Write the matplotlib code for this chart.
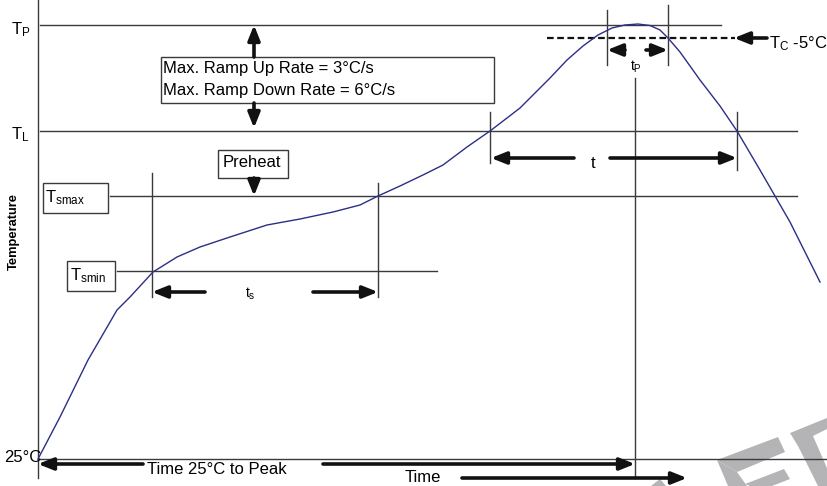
import matplotlib
matplotlib.use("Agg")
import matplotlib.pyplot as plt
from matplotlib.patches import Rectangle, Polygon

plt.rcParams['font.family'] = ['Liberation Sans', 'DejaVu Sans']
plt.rcParams['mathtext.default'] = 'regular'

# ---- data (diagram units: x = time, y = temperature, screen-like scale) ----
profile_time = [38, 60, 88, 117, 130, 153, 177, 200, 230, 267, 300, 333, 360, 378,
                400, 425, 443, 467, 490, 507, 520, 535, 550, 567, 583, 598, 612, 625,
                638, 650, 660, 668, 680, 700, 720, 737, 760, 790, 820]
profile_temp = [459, 417, 360, 310, 297, 272, 257, 247, 237, 225, 219, 212, 205, 196,
                186, 174, 165, 147, 131, 118, 108, 93, 78, 60, 46, 35, 28, 25,
                24, 25.5, 30, 38, 52, 80, 106, 131, 170, 222, 282]

level_names = ['Tp', 'TL', 'Tsmax', 'Tsmin', 'T25']
level_temp = [25, 131, 196, 271, 459]
level_start = [40, 40, 110, 117, 38]
level_end = [721, 797, 797, 437, 827]
tc_temp = 38

fig = plt.figure(figsize=(8.27, 4.86), dpi=100)
ax = fig.add_axes([0, 0, 1, 1])
ax.set_xlim(0, 827)
ax.set_ylim(486, 0)
ax.axis('off')

LC = '#3a3a3a'
LW = 1.0
FS = 12

# watermark
wm = '#b4b4b6'
for pts in [
    [(717, 460), (778, 437), (785, 452), (737, 472)],
    [(717, 460), (737, 472), (747, 486), (728, 486)],
    [(745, 484), (784, 469), (790, 479), (772, 486), (750, 486)],
    [(790, 433), (827, 418), (827, 429), (813, 436), (827, 468), (827, 486), (818, 486), (798, 446)],
    [(651, 486), (660, 479), (666, 486)],
]:
    ax.add_patch(Polygon(pts, closed=True, fc=wm, ec='none', zorder=0))

# y axis
ax.plot([38, 38], [0, 478], color=LC, lw=LW)
# horizontal level lines
for yv, x0, x1 in zip(level_temp, level_start, level_end):
    ax.plot([x0, x1], [yv, yv], color=LC, lw=LW)

# dashed Tc-5 line
ax.plot([547, 735], [tc_temp, tc_temp], color='#111111', lw=1.6, ls=(0, (3, 1.6)))

# vertical lines
verts = [(152, 173, 297), (378, 183, 297), (490, 112, 163), (737, 112, 170),
         (607, 10, 65), (668, 5, 65), (635, 78, 478)]
for x, y0, y1 in verts:
    ax.plot([x, x], [y0, y1], color=LC, lw=LW)

# profile curve
ax.plot(profile_time, profile_temp, color='#2b2f86', lw=1.0, zorder=5)

def arrow(x0, y0, x1, y1, lw=2.6):
    ax.annotate('', xy=(x1, y1), xytext=(x0, y0),
                arrowprops=dict(arrowstyle='-|>,head_length=0.9,head_width=0.36',
                                lw=lw, color='#111111', shrinkA=0, shrinkB=0),
                zorder=6)

# arrows
arrow(254, 57, 254, 25)
arrow(254, 103, 254, 128)
arrow(254, 178, 254, 196)
arrow(205, 292, 152, 292)
arrow(313, 292, 378, 292)
arrow(574, 158, 491, 158)
arrow(610, 158, 737, 158)
arrow(625, 50, 607, 50)
arrow(646, 50, 668, 50)
arrow(767, 38, 734, 38)
arrow(143, 464, 38, 464)
arrow(323, 464, 635, 464)
arrow(462, 478, 687, 478)

# boxes
for x0, y0, x1, y1 in [(161, 57, 494, 103), (218, 150, 288, 178),
                       (43, 183, 108, 213), (67, 261, 115, 291)]:
    ax.add_patch(Rectangle((x0, y0), x1 - x0, y1 - y0, fill=True, fc='white',
                           ec=LC, lw=LW, zorder=4))

# texts
ax.text(163, 69, 'Max. Ramp Up Rate = 3°C/s', fontsize=FS, va='center', ha='left', zorder=7)
ax.text(163, 91, 'Max. Ramp Down Rate = 6°C/s', fontsize=FS, va='center', ha='left', zorder=7)
ax.text(252, 162, 'Preheat', fontsize=FS, va='center', ha='center', zorder=7)
ax.text(45, 198, r'T$_{smax}$', fontsize=FS, va='center', ha='left', zorder=7)
ax.text(70, 276, r'T$_{smin}$', fontsize=FS, va='center', ha='left', zorder=7)
ax.text(11, 30, r'T$_{P}$', fontsize=FS, va='center', ha='left')
ax.text(11, 135, r'T$_{L}$', fontsize=FS, va='center', ha='left')
ax.text(769, 44, r'T$_{C}$ -5°C', fontsize=FS, va='center', ha='left')
ax.text(636, 67, r't$_{P}$', fontsize=FS - 2, va='center', ha='center')
ax.text(593, 163, 't', fontsize=FS, va='center', ha='center')
ax.text(250, 294, r't$_{s}$', fontsize=FS - 2, va='center', ha='center')
ax.text(4, 457, '25°C', fontsize=FS, va='center', ha='left')
ax.text(147, 469, 'Time 25°C to Peak', fontsize=FS, va='center', ha='left')
ax.text(405, 477, 'Time', fontsize=FS, va='center', ha='left')
ax.text(14, 231, 'Temperature', fontsize=9.3, fontweight='bold', rotation=90,
        va='center', ha='center')

fig.savefig('out.png', dpi=100)
